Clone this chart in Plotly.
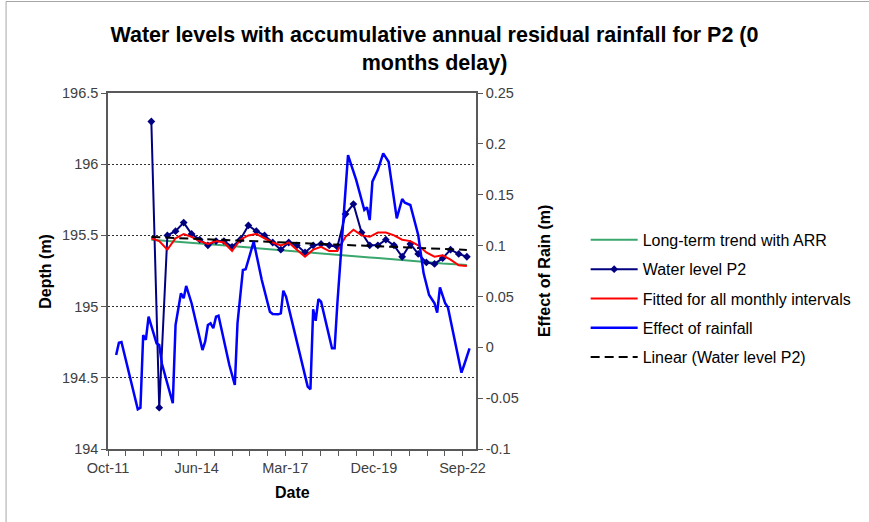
import plotly.graph_objects as go
import pandas as pd
import numpy as np

# ---------------- data ----------------
wl_dates = ["2013-02-01", "2013-05-01", "2013-08-01", "2013-11-01",
            "2014-02-01", "2014-05-01", "2014-08-01", "2014-11-01",
            "2015-02-01", "2015-05-01", "2015-08-01", "2015-11-01",
            "2016-02-01", "2016-05-01", "2016-08-01", "2016-11-01",
            "2017-02-01", "2017-05-01", "2017-08-01", "2017-11-01",
            "2018-02-01", "2018-05-01", "2018-08-01", "2018-11-01",
            "2019-02-01", "2019-05-01", "2019-08-01", "2019-11-01",
            "2020-02-01", "2020-05-01", "2020-08-01", "2020-11-01",
            "2021-02-01", "2021-05-01", "2021-08-01", "2021-11-01",
            "2022-02-01", "2022-05-01", "2022-08-01", "2022-11-01"]

water_level = [196.30, 194.29, 195.50, 195.53, 195.59, 195.51, 195.47, 195.43, 195.46, 195.46,
               195.42, 195.47, 195.57, 195.53, 195.50, 195.45, 195.40, 195.45, 195.43, 195.38,
               195.43, 195.44, 195.43, 195.42, 195.65, 195.72, 195.52, 195.43, 195.43, 195.47,
               195.43, 195.35, 195.44, 195.37, 195.31, 195.30, 195.34, 195.40, 195.37, 195.35]

fitted = [195.48, 195.46, 195.40, 195.48, 195.51, 195.49, 195.46, 195.44, 195.46, 195.45,
          195.39, 195.47, 195.50, 195.51, 195.48, 195.45, 195.43, 195.45, 195.40, 195.35,
          195.40, 195.42, 195.39, 195.39, 195.49, 195.54, 195.50, 195.49, 195.52, 195.52,
          195.50, 195.47, 195.46, 195.43, 195.38, 195.35, 195.36, 195.33, 195.29, 195.285]

trend_arr = [195.470, 195.466, 195.461, 195.456, 195.451, 195.449, 195.446, 195.441, 195.436, 195.431,
             195.426, 195.420, 195.415, 195.411, 195.406, 195.400, 195.395, 195.391, 195.387, 195.382,
             195.377, 195.372, 195.367, 195.361, 195.357, 195.353, 195.349, 195.345, 195.341, 195.337,
             195.333, 195.328, 195.323, 195.318, 195.313, 195.308, 195.303, 195.299, 195.295, 195.292]

rain_dates = ["2012-01-01", "2012-02-01", "2012-03-01", "2012-09-01", "2012-10-01", "2012-11-01",
              "2012-12-01", "2013-01-01", "2013-04-01", "2013-05-01", "2013-06-01", "2013-10-01",
              "2013-11-01", "2014-01-01", "2014-02-01", "2014-03-01", "2014-05-01", "2014-09-01",
              "2014-10-01", "2014-11-01", "2014-12-01", "2015-01-01", "2015-02-01", "2015-03-01",
              "2015-07-01", "2015-09-01", "2015-10-01", "2015-12-01", "2016-01-01", "2016-04-01",
              "2016-07-01", "2016-10-01", "2016-11-01", "2017-01-01", "2017-02-01", "2017-03-01",
              "2017-04-01", "2017-12-01", "2018-01-01", "2018-02-01", "2018-03-01", "2018-04-01",
              "2018-05-01", "2018-09-01", "2018-10-01", "2018-11-01", "2019-03-01", "2019-06-01",
              "2019-09-01", "2019-10-01", "2019-11-01", "2019-12-01", "2020-02-01", "2020-04-01",
              "2020-06-01", "2020-09-01", "2020-11-01", "2020-12-01", "2021-02-01", "2021-05-01",
              "2021-07-01", "2021-09-01", "2021-11-01", "2021-12-01", "2022-01-01", "2022-02-01",
              "2022-03-01", "2022-04-01", "2022-09-01", "2022-10-01", "2022-12-01"]

rain_effect = [-0.0076, 0.0045, 0.0052, -0.0609, -0.0594, 0.0121,
               0.0072, 0.0301, 0.0039, 0.0023, -0.0164, -0.0550,
               0.0219, 0.0531, 0.0482, 0.0603, 0.0433, -0.0027,
               0.0055, 0.0219, 0.0236, 0.0187, 0.0301, 0.0311,
               -0.0174, -0.0371, 0.0236, 0.0760, 0.0767, 0.1038,
               0.0662, 0.0350, 0.0327, 0.0324, 0.0334, 0.0556,
               0.0497, -0.0387, -0.0413, 0.0374, 0.0261, 0.0472,
               0.0448, -0.0010, -0.0010, 0.0433, 0.1890, 0.1645,
               0.1350, 0.1376, 0.1251, 0.1628, 0.1744, 0.1907,
               0.1824, 0.1268, 0.1458, 0.1421, 0.1399, 0.1104,
               0.0727, 0.0514, 0.0433, 0.0340, 0.0590, 0.0514,
               0.0433, 0.0393, -0.0250, -0.0174, -0.0010]

x_labels = ["Oct-11", "Jun-14", "Mar-17", "Dec-19", "Sep-22"]
left_ticks = [194, 194.5, 195, 195.5, 196, 196.5]
left_text = ["194", "194.5", "195", "195.5", "196", "196.5"]
right_ticks = [-0.1, -0.05, 0, 0.05, 0.1, 0.15, 0.2, 0.25]
right_text = ["-0.1", "-0.05", "0", "0.05", "0.1", "0.15", "0.2", "0.25"]

# linear trendline of the water level (as Excel does)
wl_dt = pd.to_datetime(wl_dates)
t_days = (wl_dt - wl_dt[0]).days.values.astype(float)
coef = np.polyfit(t_days, np.array(water_level), 1)
lin_vals = np.polyval(coef, t_days[[0, -1]])
lin_dates = [wl_dates[0], wl_dates[-1]]

# axis ticks (Excel date axis: major 1000 days, minor 200 days)
d0 = pd.Timestamp("2011-10-01")
tickvals = [d0 + pd.Timedelta(days=200 * k) for k in range(21)]
ticktext = [x_labels[k // 5] if k % 5 == 0 else "" for k in range(21)]
x_range = [d0, d0 + pd.Timedelta(days=4152)]

FONT = "Liberation Sans, Arial, sans-serif"

fig = go.Figure()
fig.add_trace(go.Scatter(x=wl_dates, y=trend_arr, mode="lines", name="Long-term trend with ARR",
                         line=dict(color="#3aa76d", width=2), legendgroup="a", legendrank=1))
fig.add_trace(go.Scatter(x=wl_dates, y=water_level, mode="lines+markers", name="Water level P2",
                         line=dict(color="#000080", width=2),
                         marker=dict(symbol="diamond", size=6, color="#000080"), legendgroup="b",
                         legendrank=2))
fig.add_trace(go.Scatter(x=wl_dates, y=fitted, mode="lines", name="Fitted for all monthly intervals",
                         line=dict(color="#ff0000", width=2), legendgroup="c", legendrank=3))
fig.add_trace(go.Scatter(x=lin_dates, y=lin_vals, mode="lines", name="Linear (Water level P2)",
                         line=dict(color="#000000", width=2, dash="9px,5px"), legendgroup="e",
                         legendrank=5))
fig.add_trace(go.Scatter(x=rain_dates, y=rain_effect, mode="lines", name="Effect of rainfall",
                         line=dict(color="#0000ff", width=2.5), yaxis="y2", legendgroup="d",
                         legendrank=4))

fig.update_layout(
    width=869, height=522,
    margin=dict(l=108, r=389, t=93, b=73),
    paper_bgcolor="white", plot_bgcolor="white",
    font=dict(family=FONT, color="#000000"),
    title=dict(text="<b>Water levels with accumulative annual residual rainfall for P2 (0<br>months delay)</b>",
               x=0.5, xanchor="center", xref="container", y=0.919, yanchor="top", yref="container",
               font=dict(size=21.5, family=FONT, color="#000000")),
    xaxis=dict(type="date", range=x_range, tickmode="array", tickvals=tickvals, ticktext=ticktext,
               ticks="outside", ticklen=5, tickcolor="#595959", showline=True, linecolor="#595959",
               linewidth=1.5, mirror=True, showgrid=False, zeroline=False,
               tickfont=dict(size=14.5, color="#404040", family=FONT)),
    yaxis=dict(range=[194, 196.5], tickmode="array", tickvals=left_ticks, ticktext=left_text,
               ticks="outside", ticklen=5, tickcolor="#595959", showline=True, linecolor="#595959",
               linewidth=1.5, mirror=True, showgrid=True, gridcolor="#303030", gridwidth=1,
               griddash="2px,2px", zeroline=False,
               tickfont=dict(size=14.5, color="#404040", family=FONT)),
    yaxis2=dict(range=[-0.1, 0.25], overlaying="y", side="right", tickmode="array",
                tickvals=right_ticks, ticktext=right_text, ticks="outside", ticklen=5,
                tickcolor="#595959", showline=True, linecolor="#595959", linewidth=1.5,
                showgrid=False, zeroline=False,
                tickfont=dict(size=14.5, color="#404040", family=FONT)),
    legend=dict(x=1.298, xanchor="left", y=0.635, yanchor="top", traceorder="grouped",
                tracegroupgap=5.5, itemwidth=47, font=dict(size=16, family=FONT, color="#000000"),
                bgcolor="rgba(0,0,0,0)"),
    showlegend=True,
    annotations=[
        dict(text="<b>Depth (m)</b>", x=-0.172, y=0.5, xref="paper", yref="paper", textangle=-90,
             xanchor="center", yanchor="middle", showarrow=False, font=dict(size=16, family=FONT)),
        dict(text="<b>Effect of Rain (m)</b>", x=1.185, y=0.5, xref="paper", yref="paper", textangle=-90,
             xanchor="center", yanchor="middle", showarrow=False, font=dict(size=16, family=FONT)),
        dict(text="<b>Date</b>", x=0.5, y=-0.121, xref="paper", yref="paper",
             xanchor="center", yanchor="middle", showarrow=False, font=dict(size=16, family=FONT)),
    ],
    shapes=[
        dict(type="line", xref="paper", yref="paper", x0=-0.277, x1=2.1, y0=1.257, y1=1.257,
             line=dict(color="#a6a6a6", width=1)),
        dict(type="line", xref="paper", yref="paper", x0=-0.277, x1=-0.277, y0=1.257, y1=-0.21,
             line=dict(color="#a6a6a6", width=1)),
    ],
)

fig.write_html("out.html", config={"displayModeBar": False},
               post_script="document.body.style.margin='0px';")
